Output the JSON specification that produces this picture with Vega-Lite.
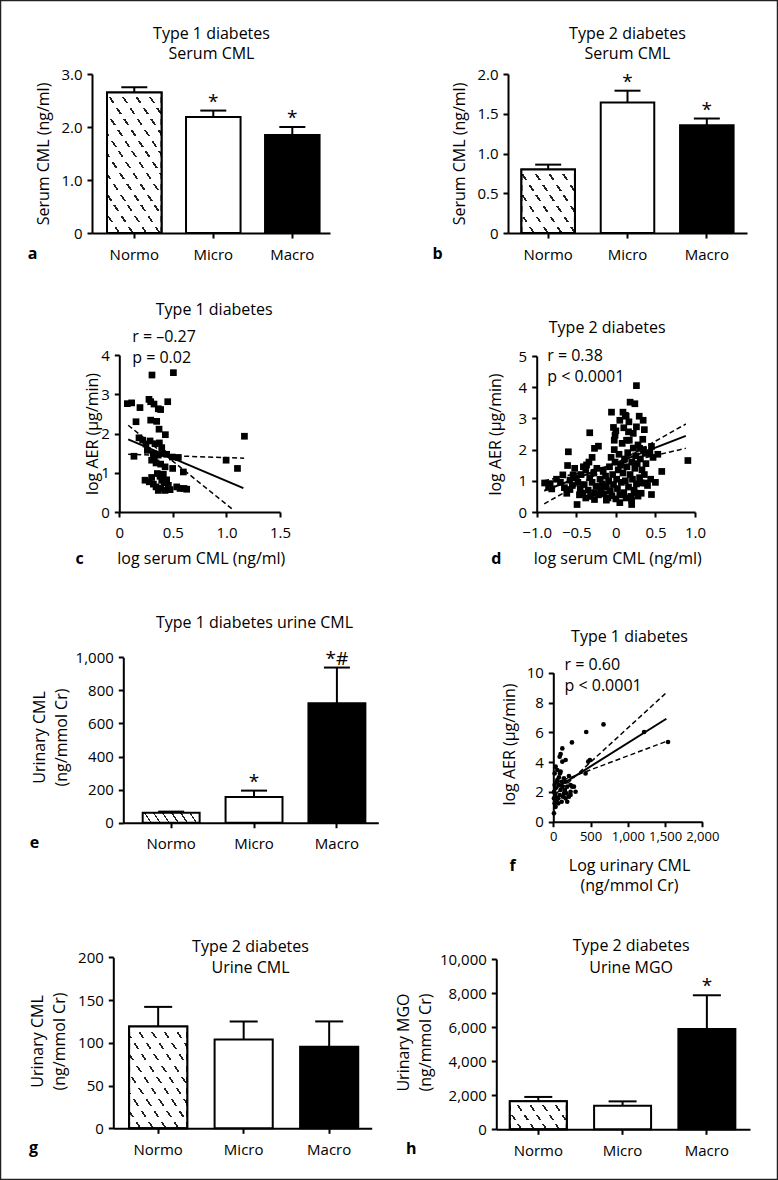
{
"$schema": "https://vega.github.io/schema/vega-lite/v6.json",
"width": 778, "height": 1180, "autosize": "none", "padding": 0, "background": "white",
"config": {
 "font": "Open Sans",
 "view": {"stroke": "#222", "strokeWidth": 2.5},
 "axis": {"grid": false, "domainColor": "black", "domainWidth": 2, "tickColor": "black", "tickWidth": 2, "tickSize": 5, "labelColor": "black", "labelFont": "Open Sans", "labelFontSize": 15, "labelPadding": 5, "labelFlush": false, "labelOverlap": false, "titleColor": "black", "titleFont": "Open Sans", "titleFontSize": 16, "titleFontWeight": "normal"},
 "text": {"font": "Open Sans", "color": "black"}
},
"datasets": {
 "a": [{"g": "Normo", "v": 2.65, "e": 2.75, "s": ""}, {"g": "Micro", "v": 2.19, "e": 2.31, "s": "*"}, {"g": "Macro", "v": 1.85, "e": 2.0, "s": "*"}],
 "b": [{"g": "Normo", "v": 0.80, "e": 0.86, "s": ""}, {"g": "Micro", "v": 1.64, "e": 1.79, "s": "*"}, {"g": "Macro", "v": 1.355, "e": 1.44, "s": "*"}],
 "e": [{"g": "Normo", "v": 60, "e": 67, "s": ""}, {"g": "Micro", "v": 155, "e": 194, "s": "*"}, {"g": "Macro", "v": 722, "e": 938, "s": "*#"}],
 "g": [{"g": "Normo", "v": 119, "e": 142, "s": ""}, {"g": "Micro", "v": 104, "e": 125, "s": ""}, {"g": "Macro", "v": 95.5, "e": 125, "s": ""}],
 "h": [{"g": "Normo", "v": 1650, "e": 1900, "s": ""}, {"g": "Micro", "v": 1390, "e": 1640, "s": ""}, {"g": "Macro", "v": 5890, "e": 7870, "s": "*"}],
 "c_pts": [{"x":0.075,"y":2.76},{"x":0.115,"y":2.78},{"x":0.193,"y":2.66},{"x":0.156,"y":2.3},{"x":0.137,"y":1.42},{"x":0.305,"y":3.49},{"x":0.505,"y":3.55},{"x":0.277,"y":2.87},{"x":0.293,"y":2.81},{"x":0.324,"y":2.75},{"x":0.364,"y":2.63},{"x":0.386,"y":2.61},{"x":0.452,"y":2.81},{"x":0.293,"y":2.34},{"x":0.349,"y":2.31},{"x":0.371,"y":2.11},{"x":0.43,"y":1.97},{"x":0.184,"y":1.89},{"x":0.218,"y":1.83},{"x":0.287,"y":1.81},{"x":0.249,"y":1.73},{"x":0.333,"y":1.74},{"x":0.374,"y":1.76},{"x":0.396,"y":1.64},{"x":0.262,"y":1.57},{"x":0.318,"y":1.49},{"x":0.364,"y":1.45},{"x":0.405,"y":1.49},{"x":0.442,"y":1.47},{"x":0.495,"y":1.4},{"x":0.551,"y":1.39},{"x":0.302,"y":1.32},{"x":0.343,"y":1.25},{"x":0.386,"y":1.22},{"x":0.427,"y":1.15},{"x":0.498,"y":1.11},{"x":0.598,"y":1.02},{"x":0.327,"y":1.36},{"x":0.997,"y":1.32},{"x":1.103,"y":1.11},{"x":1.168,"y":1.93},{"x":0.24,"y":0.81},{"x":0.28,"y":0.77},{"x":0.318,"y":0.71},{"x":0.355,"y":0.98},{"x":0.38,"y":0.91},{"x":0.396,"y":0.81},{"x":0.343,"y":0.64},{"x":0.386,"y":0.6},{"x":0.417,"y":0.74},{"x":0.442,"y":0.82},{"x":0.458,"y":0.68},{"x":0.474,"y":0.57},{"x":0.536,"y":0.64},{"x":0.567,"y":0.6},{"x":0.604,"y":0.6},{"x":0.629,"y":0.58},{"x":0.364,"y":0.55},{"x":0.427,"y":0.55},{"x":0.302,"y":0.88},{"x":0.411,"y":0.96}],
 "c_fit": [{"k":"fit","x":0.083,"y":1.85},{"k":"fit","x":1.158,"y":0.61},{"k":"b1","x":0.083,"y":2.21},{"k":"b1","x":1.07,"y":0.04},{"k":"b2","x":0.083,"y":1.47},{"k":"b2","x":1.165,"y":1.37}],
 "d_pts": [{"x":-0.9,"y":0.93},{"x":-0.83,"y":0.91},{"x":-0.81,"y":0.74},{"x":-0.85,"y":0.8},{"x":-0.75,"y":1.05},{"x":-0.7,"y":0.95},{"x":-0.67,"y":1.19},{"x":-0.65,"y":0.78},{"x":-0.62,"y":0.6},{"x":-0.6,"y":1.93},{"x":-0.61,"y":1.49},{"x":-0.58,"y":1.02},{"x":-0.58,"y":0.72},{"x":-0.55,"y":0.85},{"x":-0.54,"y":1.19},{"x":-0.52,"y":1.4},{"x":-0.5,"y":1.1},{"x":-0.49,"y":0.24},{"x":-0.48,"y":0.95},{"x":-0.46,"y":0.55},{"x":-0.45,"y":0.75},{"x":-0.44,"y":1.2},{"x":-0.42,"y":0.6},{"x":-0.41,"y":1.45},{"x":-0.4,"y":0.88},{"x":-0.38,"y":1.35},{"x":-0.38,"y":0.45},{"x":-0.37,"y":1.51},{"x":-0.35,"y":0.7},{"x":-0.34,"y":1.6},{"x":-0.33,"y":2.54},{"x":-0.33,"y":1.1},{"x":-0.32,"y":0.5},{"x":-0.3,"y":0.95},{"x":-0.3,"y":1.75},{"x":-0.28,"y":1.25},{"x":-0.27,"y":0.62},{"x":-0.27,"y":0.4},{"x":-0.27,"y":2.04},{"x":-0.25,"y":0.82},{"x":-0.24,"y":1.4},{"x":-0.22,"y":2.11},{"x":-0.22,"y":0.55},{"x":-0.2,"y":1.05},{"x":-0.19,"y":0.72},{"x":-0.17,"y":0.9},{"x":-0.16,"y":1.3},{"x":-0.15,"y":0.58},{"x":-0.13,"y":1.15},{"x":-0.12,"y":0.8},{"x":-0.12,"y":0.38},{"x":-0.1,"y":0.45},{"x":-0.09,"y":1.0},{"x":-0.08,"y":1.45},{"x":-0.07,"y":0.68},{"x":-0.06,"y":1.75},{"x":-0.055,"y":3.2},{"x":-0.05,"y":0.52},{"x":-0.04,"y":1.2},{"x":-0.03,"y":2.71},{"x":-0.03,"y":0.88},{"x":-0.02,"y":2.0},{"x":-0.02,"y":2.3},{"x":-0.01,"y":2.46},{"x":-0.01,"y":1.6},{"x":0.0,"y":0.42},{"x":0.0,"y":2.6},{"x":0.01,"y":1.05},{"x":0.02,"y":0.75},{"x":0.03,"y":1.35},{"x":0.04,"y":1.85},{"x":0.05,"y":0.55},{"x":0.05,"y":2.94},{"x":0.05,"y":0.3},{"x":0.06,"y":1.5},{"x":0.07,"y":0.95},{"x":0.08,"y":2.2},{"x":0.09,"y":1.25},{"x":0.09,"y":3.2},{"x":0.1,"y":0.62},{"x":0.1,"y":2.7},{"x":0.11,"y":1.7},{"x":0.12,"y":1.0},{"x":0.12,"y":3.1},{"x":0.13,"y":0.45},{"x":0.13,"y":3.07},{"x":0.135,"y":2.3},{"x":0.14,"y":1.45},{"x":0.15,"y":1.9},{"x":0.16,"y":2.57},{"x":0.16,"y":0.8},{"x":0.165,"y":2.89},{"x":0.17,"y":2.3},{"x":0.18,"y":1.2},{"x":0.18,"y":3.52},{"x":0.19,"y":0.5},{"x":0.2,"y":1.6},{"x":0.2,"y":0.24},{"x":0.2,"y":0.38},{"x":0.21,"y":1.05},{"x":0.22,"y":2.05},{"x":0.22,"y":2.52},{"x":0.23,"y":0.7},{"x":0.24,"y":1.4},{"x":0.24,"y":3.47},{"x":0.24,"y":0.61},{"x":0.25,"y":1.8},{"x":0.26,"y":0.9},{"x":0.26,"y":4.05},{"x":0.26,"y":2.73},{"x":0.27,"y":1.55},{"x":0.28,"y":2.15},{"x":0.28,"y":0.51},{"x":0.295,"y":3.07},{"x":0.3,"y":1.1},{"x":0.3,"y":2.04},{"x":0.31,"y":1.7},{"x":0.32,"y":0.6},{"x":0.32,"y":0.93},{"x":0.33,"y":1.35},{"x":0.34,"y":2.33},{"x":0.345,"y":2.94},{"x":0.35,"y":2.0},{"x":0.36,"y":1.2},{"x":0.36,"y":2.64},{"x":0.37,"y":0.93},{"x":0.37,"y":1.88},{"x":0.38,"y":1.55},{"x":0.4,"y":0.85},{"x":0.42,"y":1.9},{"x":0.43,"y":1.88},{"x":0.44,"y":1.05},{"x":0.45,"y":0.56},{"x":0.45,"y":2.1},{"x":0.47,"y":1.75},{"x":0.5,"y":0.95},{"x":0.53,"y":1.85},{"x":0.58,"y":1.3},{"x":0.91,"y":1.65}],
 "d_fit": [{"k":"fit","x":-0.905,"y":0.68},{"k":"fit","x":0.884,"y":2.44},{"k":"b1","x":-0.905,"y":1.0},{"k":"b1","x":0.884,"y":2.04},{"k":"b2","x":-0.905,"y":0.26},{"k":"b2","x":0.884,"y":2.82}],
 "f_pts": [{"x":1540,"y":5.35},{"x":1219,"y":6.02},{"x":674,"y":6.53},{"x":442,"y":6.02},{"x":250,"y":5.32},{"x":491,"y":4.14},{"x":469,"y":4.03},{"x":433,"y":3.24},{"x":121,"y":4.92},{"x":98,"y":4.54},{"x":85,"y":4.36},{"x":165,"y":4.14},{"x":121,"y":4.03},{"x":210,"y":3.06},{"x":254,"y":2.35},{"x":232,"y":1.79},{"x":31,"y":3.69},{"x":54,"y":3.47},{"x":18,"y":3.24},{"x":9,"y":0.56},{"x":22,"y":1.9},{"x":31,"y":1.68},{"x":45,"y":1.45},{"x":67,"y":1.57},{"x":85,"y":1.79},{"x":98,"y":2.13},{"x":121,"y":2.35},{"x":143,"y":1.9},{"x":165,"y":1.57},{"x":187,"y":1.34},{"x":210,"y":1.68},{"x":232,"y":2.01},{"x":76,"y":2.46},{"x":54,"y":2.8},{"x":31,"y":2.24},{"x":18,"y":2.46},{"x":9,"y":2.01},{"x":18,"y":1.23},{"x":31,"y":1.0},{"x":9,"y":1.57},{"x":112,"y":2.68},{"x":143,"y":2.91},{"x":89,"y":3.24},{"x":187,"y":2.35},{"x":156,"y":2.13},{"x":67,"y":1.23},{"x":112,"y":1.34},{"x":130,"y":1.68},{"x":178,"y":1.9},{"x":76,"y":2.98},{"x":45,"y":2.68},{"x":98,"y":3.36},{"x":165,"y":2.68},{"x":232,"y":2.46},{"x":277,"y":2.35},{"x":299,"y":2.01}],
 "f_fit": [{"k":"fit","x":31,"y":2.24},{"k":"fit","x":1518,"y":6.91},{"k":"b1","x":31,"y":1.85},{"k":"b1","x":1518,"y":8.66},{"k":"b2","x":31,"y":2.6},{"k":"b2","x":1518,"y":5.39}]
},
"layer": [
 {"data": {"name": "a"}, "resolve": {"axis": {"x": "independent", "y": "independent"}},
  "layer": [
   {"mark": {"type": "bar", "stroke": "black", "strokeWidth": 2},
    "encoding": {
     "x": {"field": "g", "type": "nominal", "sort": null, "scale": {"domain": ["Normo","Micro","Macro"], "range": [92,330], "paddingInner": 0.31, "paddingOuter": 0.161, "align": 0.59},
      "axis": {"orient": "bottom", "offset": -947, "labelAngle": 0, "labelPadding": 9, "title": "a", "titleX": 32, "titleY": 20, "titleFontSize": 16, "titleFontWeight": "bold", "titleAlign": "center", "titleBaseline": "middle"}},
     "y": {"field": "v", "type": "quantitative", "scale": {"domain": [0,3], "range": [233,74], "nice": false},
      "axis": {"orient": "left", "offset": -92, "values": [0,1,2,3], "labelExpr": "datum.value === 0 ? '0' : format(datum.value, '.1f')", "title": "Serum CML (ng/ml)", "titleX": -49, "titleY": 153.5, "titleAlign": "center", "titleBaseline": "middle"}},
     "fill": {"condition": [{"test": "datum.g === 'Normo'", "value": {"gradient":"linear","x1":0,"y1":1,"x2":0.689,"y2":-0.181,"stops":[{"offset":0,"color":"white"},{"offset":0.0764,"color":"white"},{"offset":0.0764,"color":"#222"},{"offset":0.0909,"color":"#222"},{"offset":0.0909,"color":"white"},{"offset":0.1673,"color":"white"},{"offset":0.1673,"color":"#222"},{"offset":0.1818,"color":"#222"},{"offset":0.1818,"color":"white"},{"offset":0.2582,"color":"white"},{"offset":0.2582,"color":"#222"},{"offset":0.2727,"color":"#222"},{"offset":0.2727,"color":"white"},{"offset":0.3491,"color":"white"},{"offset":0.3491,"color":"#222"},{"offset":0.3636,"color":"#222"},{"offset":0.3636,"color":"white"},{"offset":0.44,"color":"white"},{"offset":0.44,"color":"#222"},{"offset":0.4545,"color":"#222"},{"offset":0.4545,"color":"white"},{"offset":0.5309,"color":"white"},{"offset":0.5309,"color":"#222"},{"offset":0.5455,"color":"#222"},{"offset":0.5455,"color":"white"},{"offset":0.6218,"color":"white"},{"offset":0.6218,"color":"#222"},{"offset":0.6364,"color":"#222"},{"offset":0.6364,"color":"white"},{"offset":0.7127,"color":"white"},{"offset":0.7127,"color":"#222"},{"offset":0.7273,"color":"#222"},{"offset":0.7273,"color":"white"},{"offset":0.8036,"color":"white"},{"offset":0.8036,"color":"#222"},{"offset":0.8182,"color":"#222"},{"offset":0.8182,"color":"white"},{"offset":0.8945,"color":"white"},{"offset":0.8945,"color":"#222"},{"offset":0.9091,"color":"#222"},{"offset":0.9091,"color":"white"},{"offset":0.9855,"color":"white"},{"offset":0.9855,"color":"#222"},{"offset":1,"color":"#222"}]}}, {"test": "datum.g === 'Macro'", "value": "black"}], "value": "white"}
    }},
   {"transform": [{"filter": "datum.g === 'Normo'"}], "mark": {"type": "bar", "strokeWidth": 0, "fill": {"gradient":"linear","x1":0,"y1":0,"x2":0,"y2":1,"stops":[{"offset":0,"color":"white"},{"offset":0.0346,"color":"white"},{"offset":0.0346,"color":"rgba(255,255,255,0)"},{"offset":0.0769,"color":"rgba(255,255,255,0)"},{"offset":0.0769,"color":"white"},{"offset":0.1115,"color":"white"},{"offset":0.1115,"color":"rgba(255,255,255,0)"},{"offset":0.1538,"color":"rgba(255,255,255,0)"},{"offset":0.1538,"color":"white"},{"offset":0.1885,"color":"white"},{"offset":0.1885,"color":"rgba(255,255,255,0)"},{"offset":0.2308,"color":"rgba(255,255,255,0)"},{"offset":0.2308,"color":"white"},{"offset":0.2654,"color":"white"},{"offset":0.2654,"color":"rgba(255,255,255,0)"},{"offset":0.3077,"color":"rgba(255,255,255,0)"},{"offset":0.3077,"color":"white"},{"offset":0.3423,"color":"white"},{"offset":0.3423,"color":"rgba(255,255,255,0)"},{"offset":0.3846,"color":"rgba(255,255,255,0)"},{"offset":0.3846,"color":"white"},{"offset":0.4192,"color":"white"},{"offset":0.4192,"color":"rgba(255,255,255,0)"},{"offset":0.4615,"color":"rgba(255,255,255,0)"},{"offset":0.4615,"color":"white"},{"offset":0.4962,"color":"white"},{"offset":0.4962,"color":"rgba(255,255,255,0)"},{"offset":0.5385,"color":"rgba(255,255,255,0)"},{"offset":0.5385,"color":"white"},{"offset":0.5731,"color":"white"},{"offset":0.5731,"color":"rgba(255,255,255,0)"},{"offset":0.6154,"color":"rgba(255,255,255,0)"},{"offset":0.6154,"color":"white"},{"offset":0.65,"color":"white"},{"offset":0.65,"color":"rgba(255,255,255,0)"},{"offset":0.6923,"color":"rgba(255,255,255,0)"},{"offset":0.6923,"color":"white"},{"offset":0.7269,"color":"white"},{"offset":0.7269,"color":"rgba(255,255,255,0)"},{"offset":0.7692,"color":"rgba(255,255,255,0)"},{"offset":0.7692,"color":"white"},{"offset":0.8038,"color":"white"},{"offset":0.8038,"color":"rgba(255,255,255,0)"},{"offset":0.8462,"color":"rgba(255,255,255,0)"},{"offset":0.8462,"color":"white"},{"offset":0.8808,"color":"white"},{"offset":0.8808,"color":"rgba(255,255,255,0)"},{"offset":0.9231,"color":"rgba(255,255,255,0)"},{"offset":0.9231,"color":"white"},{"offset":0.9577,"color":"white"},{"offset":0.9577,"color":"rgba(255,255,255,0)"},{"offset":1,"color":"rgba(255,255,255,0)"}]}},
    "encoding": {"x": {"field": "g", "type": "nominal", "sort": null, "axis": null}, "y": {"field": "v", "type": "quantitative", "axis": null}}},
   {"transform": [{"filter": "datum.g === 'Normo'"}], "mark": {"type": "bar", "fill": "white", "fillOpacity": 0, "stroke": "black", "strokeWidth": 2},
    "encoding": {"x": {"field": "g", "type": "nominal", "sort": null, "axis": null}, "y": {"field": "v", "type": "quantitative", "axis": null}}},
   {"mark": {"type": "rule", "strokeWidth": 2, "color": "black"},
    "encoding": {
     "x": {"field": "g", "type": "nominal", "sort": null, "axis": {"orient": "top", "offset": 0, "domain": false, "ticks": false, "labels": false, "title": ["Type 1 diabetes","Serum CML"], "titleX": 211, "titleY": 25, "titleAlign": "center", "titleBaseline": "top", "titleLineHeight": 20}},
     "y": {"field": "v", "type": "quantitative", "axis": null}, "y2": {"field": "e"}}},
   {"mark": {"type": "tick", "thickness": 2, "size": 26, "color": "black", "opacity": 1},
    "encoding": {"x": {"field": "g", "type": "nominal", "sort": null, "axis": null}, "y": {"field": "e", "type": "quantitative", "axis": null}}},
   {"mark": {"type": "text", "fontSize": 19, "baseline": "alphabetic", "dy": -3, "color": "black"},
    "encoding": {"x": {"field": "g", "type": "nominal", "sort": null, "axis": null}, "y": {"field": "e", "type": "quantitative", "axis": null}, "text": {"field": "s"}}}
  ]},
 {"data": {"name": "b"}, "resolve": {"axis": {"x": "independent", "y": "independent"}},
  "layer": [
   {"mark": {"type": "bar", "stroke": "black", "strokeWidth": 2},
    "encoding": {
     "x": {"field": "g", "type": "nominal", "sort": null, "scale": {"domain": ["Normo","Micro","Macro"], "range": [508,747], "paddingInner": 0.325, "paddingOuter": 0.169, "align": 0.5},
      "axis": {"orient": "bottom", "offset": -947, "labelAngle": 0, "labelPadding": 9, "title": "b", "titleX": 437, "titleY": 20, "titleFontSize": 16, "titleFontWeight": "bold", "titleAlign": "center", "titleBaseline": "middle"}},
     "y": {"field": "v", "type": "quantitative", "scale": {"domain": [0,2], "range": [233,74], "nice": false},
      "axis": {"orient": "left", "offset": -508, "values": [0,0.5,1,1.5,2], "labelExpr": "datum.value === 0 ? '0' : format(datum.value, '.1f')", "title": "Serum CML (ng/ml)", "titleX": -49, "titleY": 153.5, "titleAlign": "center", "titleBaseline": "middle"}},
     "fill": {"condition": [{"test": "datum.g === 'Normo'", "value": {"gradient":"linear","x1":0,"y1":1,"x2":1.101,"y2":0.127,"stops":[{"offset":0,"color":"white"},{"offset":0.12,"color":"white"},{"offset":0.12,"color":"#222"},{"offset":0.1429,"color":"#222"},{"offset":0.1429,"color":"white"},{"offset":0.2629,"color":"white"},{"offset":0.2629,"color":"#222"},{"offset":0.2857,"color":"#222"},{"offset":0.2857,"color":"white"},{"offset":0.4057,"color":"white"},{"offset":0.4057,"color":"#222"},{"offset":0.4286,"color":"#222"},{"offset":0.4286,"color":"white"},{"offset":0.5486,"color":"white"},{"offset":0.5486,"color":"#222"},{"offset":0.5714,"color":"#222"},{"offset":0.5714,"color":"white"},{"offset":0.6914,"color":"white"},{"offset":0.6914,"color":"#222"},{"offset":0.7143,"color":"#222"},{"offset":0.7143,"color":"white"},{"offset":0.8343,"color":"white"},{"offset":0.8343,"color":"#222"},{"offset":0.8571,"color":"#222"},{"offset":0.8571,"color":"white"},{"offset":0.9771,"color":"white"},{"offset":0.9771,"color":"#222"},{"offset":1,"color":"#222"}]}}, {"test": "datum.g === 'Macro'", "value": "black"}], "value": "white"}
    }},
   {"transform": [{"filter": "datum.g === 'Normo'"}], "mark": {"type": "bar", "strokeWidth": 0, "fill": {"gradient":"linear","x1":0,"y1":0,"x2":0,"y2":1,"stops":[{"offset":0,"color":"white"},{"offset":0.075,"color":"white"},{"offset":0.075,"color":"rgba(255,255,255,0)"},{"offset":0.1667,"color":"rgba(255,255,255,0)"},{"offset":0.1667,"color":"white"},{"offset":0.2417,"color":"white"},{"offset":0.2417,"color":"rgba(255,255,255,0)"},{"offset":0.3333,"color":"rgba(255,255,255,0)"},{"offset":0.3333,"color":"white"},{"offset":0.4083,"color":"white"},{"offset":0.4083,"color":"rgba(255,255,255,0)"},{"offset":0.5,"color":"rgba(255,255,255,0)"},{"offset":0.5,"color":"white"},{"offset":0.575,"color":"white"},{"offset":0.575,"color":"rgba(255,255,255,0)"},{"offset":0.6667,"color":"rgba(255,255,255,0)"},{"offset":0.6667,"color":"white"},{"offset":0.7417,"color":"white"},{"offset":0.7417,"color":"rgba(255,255,255,0)"},{"offset":0.8333,"color":"rgba(255,255,255,0)"},{"offset":0.8333,"color":"white"},{"offset":0.9083,"color":"white"},{"offset":0.9083,"color":"rgba(255,255,255,0)"},{"offset":1,"color":"rgba(255,255,255,0)"}]}},
    "encoding": {"x": {"field": "g", "type": "nominal", "sort": null, "axis": null}, "y": {"field": "v", "type": "quantitative", "axis": null}}},
   {"transform": [{"filter": "datum.g === 'Normo'"}], "mark": {"type": "bar", "fill": "white", "fillOpacity": 0, "stroke": "black", "strokeWidth": 2},
    "encoding": {"x": {"field": "g", "type": "nominal", "sort": null, "axis": null}, "y": {"field": "v", "type": "quantitative", "axis": null}}},
   {"mark": {"type": "rule", "strokeWidth": 2, "color": "black"},
    "encoding": {
     "x": {"field": "g", "type": "nominal", "sort": null, "axis": {"orient": "top", "offset": 0, "domain": false, "ticks": false, "labels": false, "title": ["Type 2 diabetes","Serum CML"], "titleX": 627, "titleY": 25, "titleAlign": "center", "titleBaseline": "top", "titleLineHeight": 20}},
     "y": {"field": "v", "type": "quantitative", "axis": null}, "y2": {"field": "e"}}},
   {"mark": {"type": "tick", "thickness": 2, "size": 26, "color": "black", "opacity": 1},
    "encoding": {"x": {"field": "g", "type": "nominal", "sort": null, "axis": null}, "y": {"field": "e", "type": "quantitative", "axis": null}}},
   {"mark": {"type": "text", "fontSize": 19, "baseline": "alphabetic", "dy": -3, "color": "black"},
    "encoding": {"x": {"field": "g", "type": "nominal", "sort": null, "axis": null}, "y": {"field": "e", "type": "quantitative", "axis": null}, "text": {"field": "s"}}}
  ]},
 {"resolve": {"axis": {"x": "independent", "y": "independent"}},
  "layer": [
   {"data": {"name": "c_pts"}, "mark": {"type": "square", "size": 45, "color": "black", "opacity": 1},
    "encoding": {
     "x": {"field": "x", "type": "quantitative", "scale": {"domain": [0,1.5], "range": [119.3,280], "nice": false, "zero": false},
      "axis": {"orient": "bottom", "offset": -668, "values": [0,0.5,1,1.5], "labelExpr": "datum.value === 0 ? '0' : format(datum.value, '.1f')", "labelPadding": 8, "title": "log serum CML (ng/ml)", "titleX": 200.8, "titleY": 46, "titleAlign": "center", "titleBaseline": "middle"}},
     "y": {"field": "y", "type": "quantitative", "scale": {"domain": [0,4], "range": [512,355], "nice": false},
      "axis": {"orient": "left", "offset": -119.3, "values": [0,1,2,3,4], "format": "d", "title": "log AER (µg/min)", "titleX": -27, "titleY": 433.5, "titleAlign": "center", "titleBaseline": "middle"}}}},
   {"data": {"name": "c_fit"}, "transform": [{"filter": "datum.k === 'fit'"}], "mark": {"type": "line", "color": "black", "strokeWidth": 2},
    "encoding": {
     "x": {"field": "x", "type": "quantitative", "axis": {"orient": "top", "offset": 0, "domain": false, "ticks": false, "labels": false, "title": "Type 1 diabetes", "titleX": 213.7, "titleY": 309, "titleAlign": "center", "titleBaseline": "middle"}},
     "y": {"field": "y", "type": "quantitative", "axis": {"orient": "left", "offset": 0, "domain": false, "ticks": false, "labels": false, "title": ["r = –0.27","p = 0.02"], "titleAngle": 0, "titleX": 131.7, "titleY": 328, "titleAlign": "left", "titleBaseline": "top", "titleLineHeight": 21}}}},
   {"data": {"name": "c_fit"}, "transform": [{"filter": "datum.k !== 'fit'"}], "mark": {"type": "line", "color": "black", "strokeWidth": 1.5, "strokeDash": [5,3]},
    "encoding": {
     "x": {"field": "x", "type": "quantitative", "axis": {"orient": "bottom", "offset": -1180, "domain": false, "ticks": false, "labels": false, "title": "c", "titleX": 79, "titleY": 558, "titleFontSize": 16, "titleFontWeight": "bold", "titleAlign": "center", "titleBaseline": "middle"}},
     "y": {"field": "y", "type": "quantitative", "axis": null},
     "detail": {"field": "k"}}}
  ]},
 {"resolve": {"axis": {"x": "independent", "y": "independent"}},
  "layer": [
   {"data": {"name": "d_pts"}, "mark": {"type": "square", "size": 45, "color": "black", "opacity": 1},
    "encoding": {
     "x": {"field": "x", "type": "quantitative", "scale": {"domain": [-1,1], "range": [536.7,695], "nice": false, "zero": false},
      "axis": {"orient": "bottom", "offset": -668, "values": [-1,-0.5,0,0.5,1], "labelExpr": "datum.value === 0 ? '0' : format(datum.value, '.1f')", "labelPadding": 8, "title": "log serum CML (ng/ml)", "titleX": 617.3, "titleY": 46, "titleAlign": "center", "titleBaseline": "middle"}},
     "y": {"field": "y", "type": "quantitative", "scale": {"domain": [0,5], "range": [512,356], "nice": false},
      "axis": {"orient": "left", "offset": -536.7, "values": [0,1,2,3,4,5], "format": "d", "title": "log AER (µg/min)", "titleX": -41.7, "titleY": 434, "titleAlign": "center", "titleBaseline": "middle"}}}},
   {"data": {"name": "d_fit"}, "transform": [{"filter": "datum.k === 'fit'"}], "mark": {"type": "line", "color": "black", "strokeWidth": 2},
    "encoding": {
     "x": {"field": "x", "type": "quantitative", "axis": {"orient": "top", "offset": 0, "domain": false, "ticks": false, "labels": false, "title": "Type 2 diabetes", "titleX": 606.7, "titleY": 327, "titleAlign": "center", "titleBaseline": "middle"}},
     "y": {"field": "y", "type": "quantitative", "axis": {"orient": "left", "offset": 0, "domain": false, "ticks": false, "labels": false, "title": ["r = 0.38","p < 0.0001"], "titleAngle": 0, "titleX": 546.7, "titleY": 347, "titleAlign": "left", "titleBaseline": "top", "titleLineHeight": 21}}}},
   {"data": {"name": "d_fit"}, "transform": [{"filter": "datum.k !== 'fit'"}], "mark": {"type": "line", "color": "black", "strokeWidth": 1.5, "strokeDash": [5,3]},
    "encoding": {
     "x": {"field": "x", "type": "quantitative", "axis": {"orient": "bottom", "offset": -1180, "domain": false, "ticks": false, "labels": false, "title": "d", "titleX": 495.7, "titleY": 558, "titleFontSize": 16, "titleFontWeight": "bold", "titleAlign": "center", "titleBaseline": "middle"}},
     "y": {"field": "y", "type": "quantitative", "axis": null},
     "detail": {"field": "k"}}}
  ]},
 {"data": {"name": "e"}, "resolve": {"axis": {"x": "independent", "y": "independent"}},
  "layer": [
   {"mark": {"type": "bar", "stroke": "black", "strokeWidth": 2},
    "encoding": {
     "x": {"field": "g", "type": "nominal", "sort": null, "scale": {"domain": ["Normo","Micro","Macro"], "range": [123.3,378.3], "paddingInner": 0.313, "paddingOuter": 0.195, "align": 0.6},
      "axis": {"orient": "bottom", "offset": -357.3, "labelAngle": 0, "labelPadding": 9, "title": "e", "titleX": 34, "titleY": 20, "titleFontSize": 16, "titleFontWeight": "bold", "titleAlign": "center", "titleBaseline": "middle"}},
     "y": {"field": "v", "type": "quantitative", "scale": {"domain": [0,1000], "range": [822.7,657.3], "nice": false},
      "axis": {"orient": "left", "offset": -123.3, "values": [0,200,400,600,800,1000], "format": ",.0f", "title": ["Urinary CML","(ng/mmol Cr)"], "titleX": -92, "titleY": 737, "titleAlign": "center", "titleBaseline": "top", "titleLineHeight": 22}},
     "fill": {"condition": [{"test": "datum.g === 'Normo'", "value": {"gradient":"linear","x1":0,"y1":1,"x2":1.101,"y2":0.872,"stops":[{"offset":0,"color":"white"},{"offset":0.12,"color":"white"},{"offset":0.12,"color":"#222"},{"offset":0.1429,"color":"#222"},{"offset":0.1429,"color":"white"},{"offset":0.2629,"color":"white"},{"offset":0.2629,"color":"#222"},{"offset":0.2857,"color":"#222"},{"offset":0.2857,"color":"white"},{"offset":0.4057,"color":"white"},{"offset":0.4057,"color":"#222"},{"offset":0.4286,"color":"#222"},{"offset":0.4286,"color":"white"},{"offset":0.5486,"color":"white"},{"offset":0.5486,"color":"#222"},{"offset":0.5714,"color":"#222"},{"offset":0.5714,"color":"white"},{"offset":0.6914,"color":"white"},{"offset":0.6914,"color":"#222"},{"offset":0.7143,"color":"#222"},{"offset":0.7143,"color":"white"},{"offset":0.8343,"color":"white"},{"offset":0.8343,"color":"#222"},{"offset":0.8571,"color":"#222"},{"offset":0.8571,"color":"white"},{"offset":0.9771,"color":"white"},{"offset":0.9771,"color":"#222"},{"offset":1,"color":"#222"}]}}, {"test": "datum.g === 'Macro'", "value": "black"}], "value": "white"}
    }},
   {"mark": {"type": "rule", "strokeWidth": 2, "color": "black"},
    "encoding": {
     "x": {"field": "g", "type": "nominal", "sort": null, "axis": {"orient": "top", "offset": 0, "domain": false, "ticks": false, "labels": false, "title": "Type 1 diabetes urine CML", "titleX": 254, "titleY": 622.5, "titleAlign": "center", "titleBaseline": "middle"}},
     "y": {"field": "v", "type": "quantitative", "axis": null}, "y2": {"field": "e"}}},
   {"mark": {"type": "tick", "thickness": 2, "size": 26, "color": "black", "opacity": 1},
    "encoding": {"x": {"field": "g", "type": "nominal", "sort": null, "axis": null}, "y": {"field": "e", "type": "quantitative", "axis": null}}},
   {"mark": {"type": "text", "fontSize": 19, "baseline": "alphabetic", "dy": -3, "color": "black"},
    "encoding": {"x": {"field": "g", "type": "nominal", "sort": null, "axis": null}, "y": {"field": "e", "type": "quantitative", "axis": null}, "text": {"field": "s"}}}
  ]},
 {"resolve": {"axis": {"x": "independent", "y": "independent"}},
  "layer": [
   {"data": {"name": "f_pts"}, "mark": {"type": "circle", "size": 22, "color": "black", "opacity": 1},
    "encoding": {
     "x": {"field": "x", "type": "quantitative", "scale": {"domain": [0,2000], "range": [553.3,702.3], "nice": false, "zero": false},
      "axis": {"orient": "bottom", "offset": -358.3, "values": [0,500,1000,1500,2000], "format": ",.0f", "labelFontSize": 13, "labelPadding": 4, "title": ["Log urinary CML","(ng/mmol Cr)"], "titleX": 629, "titleY": 36, "titleAlign": "center", "titleBaseline": "top", "titleLineHeight": 20}},
     "y": {"field": "y", "type": "quantitative", "scale": {"domain": [0,10], "range": [821.7,672.7], "nice": false},
      "axis": {"orient": "left", "offset": -553.3, "values": [0,2,4,6,8,10], "format": "d", "title": "log AER (µg/min)", "titleX": -44.3, "titleY": 744, "titleAlign": "center", "titleBaseline": "middle"}}}},
   {"data": {"name": "f_fit"}, "transform": [{"filter": "datum.k === 'fit'"}], "mark": {"type": "line", "color": "black", "strokeWidth": 2},
    "encoding": {
     "x": {"field": "x", "type": "quantitative", "axis": {"orient": "top", "offset": 0, "domain": false, "ticks": false, "labels": false, "title": "Type 1 diabetes", "titleX": 629, "titleY": 636, "titleAlign": "center", "titleBaseline": "middle"}},
     "y": {"field": "y", "type": "quantitative", "axis": {"orient": "left", "offset": 0, "domain": false, "ticks": false, "labels": false, "title": ["r = 0.60","p < 0.0001"], "titleAngle": 0, "titleX": 564, "titleY": 656, "titleAlign": "left", "titleBaseline": "top", "titleLineHeight": 21}}}},
   {"data": {"name": "f_fit"}, "transform": [{"filter": "datum.k !== 'fit'"}], "mark": {"type": "line", "color": "black", "strokeWidth": 1.5, "strokeDash": [5,3]},
    "encoding": {
     "x": {"field": "x", "type": "quantitative", "axis": {"orient": "bottom", "offset": -1180, "domain": false, "ticks": false, "labels": false, "title": "f", "titleX": 512, "titleY": 865, "titleFontSize": 16, "titleFontWeight": "bold", "titleAlign": "center", "titleBaseline": "middle"}},
     "y": {"field": "y", "type": "quantitative", "axis": null},
     "detail": {"field": "k"}}}
  ]},
 {"data": {"name": "g"}, "resolve": {"axis": {"x": "independent", "y": "independent"}},
  "layer": [
   {"mark": {"type": "bar", "stroke": "black", "strokeWidth": 2},
    "encoding": {
     "x": {"field": "g", "type": "nominal", "sort": null, "scale": {"domain": ["Normo","Micro","Macro"], "range": [113.3,371.7], "paddingInner": 0.32, "paddingOuter": 0.171, "align": 0.54},
      "axis": {"orient": "bottom", "offset": -51.7, "labelAngle": 0, "labelPadding": 9, "title": "g", "titleX": 33, "titleY": 19, "titleFontSize": 16, "titleFontWeight": "bold", "titleAlign": "center", "titleBaseline": "middle"}},
     "y": {"field": "v", "type": "quantitative", "scale": {"domain": [0,200], "range": [1128.3,957.3], "nice": false},
      "axis": {"orient": "left", "offset": -113.3, "values": [0,50,100,150,200], "format": "d", "title": ["Urinary CML","(ng/mmol Cr)"], "titleX": -83.6, "titleY": 1041, "titleAlign": "center", "titleBaseline": "top", "titleLineHeight": 22}},
     "fill": {"condition": [{"test": "datum.g === 'Normo'", "value": {"gradient":"linear","x1":0,"y1":1,"x2":0.918,"y2":-0.07,"stops":[{"offset":0,"color":"white"},{"offset":0.084,"color":"white"},{"offset":0.084,"color":"#222"},{"offset":0.1,"color":"#222"},{"offset":0.1,"color":"white"},{"offset":0.184,"color":"white"},{"offset":0.184,"color":"#222"},{"offset":0.2,"color":"#222"},{"offset":0.2,"color":"white"},{"offset":0.284,"color":"white"},{"offset":0.284,"color":"#222"},{"offset":0.3,"color":"#222"},{"offset":0.3,"color":"white"},{"offset":0.384,"color":"white"},{"offset":0.384,"color":"#222"},{"offset":0.4,"color":"#222"},{"offset":0.4,"color":"white"},{"offset":0.484,"color":"white"},{"offset":0.484,"color":"#222"},{"offset":0.5,"color":"#222"},{"offset":0.5,"color":"white"},{"offset":0.584,"color":"white"},{"offset":0.584,"color":"#222"},{"offset":0.6,"color":"#222"},{"offset":0.6,"color":"white"},{"offset":0.684,"color":"white"},{"offset":0.684,"color":"#222"},{"offset":0.7,"color":"#222"},{"offset":0.7,"color":"white"},{"offset":0.784,"color":"white"},{"offset":0.784,"color":"#222"},{"offset":0.8,"color":"#222"},{"offset":0.8,"color":"white"},{"offset":0.884,"color":"white"},{"offset":0.884,"color":"#222"},{"offset":0.9,"color":"#222"},{"offset":0.9,"color":"white"},{"offset":0.984,"color":"white"},{"offset":0.984,"color":"#222"},{"offset":1,"color":"#222"}]}}, {"test": "datum.g === 'Macro'", "value": "black"}], "value": "white"}
    }},
   {"transform": [{"filter": "datum.g === 'Normo'"}], "mark": {"type": "bar", "strokeWidth": 0, "fill": {"gradient":"linear","x1":0,"y1":0,"x2":0,"y2":1,"stops":[{"offset":0,"color":"white"},{"offset":0.05,"color":"white"},{"offset":0.05,"color":"rgba(255,255,255,0)"},{"offset":0.1111,"color":"rgba(255,255,255,0)"},{"offset":0.1111,"color":"white"},{"offset":0.1611,"color":"white"},{"offset":0.1611,"color":"rgba(255,255,255,0)"},{"offset":0.2222,"color":"rgba(255,255,255,0)"},{"offset":0.2222,"color":"white"},{"offset":0.2722,"color":"white"},{"offset":0.2722,"color":"rgba(255,255,255,0)"},{"offset":0.3333,"color":"rgba(255,255,255,0)"},{"offset":0.3333,"color":"white"},{"offset":0.3833,"color":"white"},{"offset":0.3833,"color":"rgba(255,255,255,0)"},{"offset":0.4444,"color":"rgba(255,255,255,0)"},{"offset":0.4444,"color":"white"},{"offset":0.4944,"color":"white"},{"offset":0.4944,"color":"rgba(255,255,255,0)"},{"offset":0.5556,"color":"rgba(255,255,255,0)"},{"offset":0.5556,"color":"white"},{"offset":0.6056,"color":"white"},{"offset":0.6056,"color":"rgba(255,255,255,0)"},{"offset":0.6667,"color":"rgba(255,255,255,0)"},{"offset":0.6667,"color":"white"},{"offset":0.7167,"color":"white"},{"offset":0.7167,"color":"rgba(255,255,255,0)"},{"offset":0.7778,"color":"rgba(255,255,255,0)"},{"offset":0.7778,"color":"white"},{"offset":0.8278,"color":"white"},{"offset":0.8278,"color":"rgba(255,255,255,0)"},{"offset":0.8889,"color":"rgba(255,255,255,0)"},{"offset":0.8889,"color":"white"},{"offset":0.9389,"color":"white"},{"offset":0.9389,"color":"rgba(255,255,255,0)"},{"offset":1,"color":"rgba(255,255,255,0)"}]}},
    "encoding": {"x": {"field": "g", "type": "nominal", "sort": null, "axis": null}, "y": {"field": "v", "type": "quantitative", "axis": null}}},
   {"transform": [{"filter": "datum.g === 'Normo'"}], "mark": {"type": "bar", "fill": "white", "fillOpacity": 0, "stroke": "black", "strokeWidth": 2},
    "encoding": {"x": {"field": "g", "type": "nominal", "sort": null, "axis": null}, "y": {"field": "v", "type": "quantitative", "axis": null}}},
   {"mark": {"type": "rule", "strokeWidth": 2, "color": "black"},
    "encoding": {
     "x": {"field": "g", "type": "nominal", "sort": null, "axis": {"orient": "top", "offset": 0, "domain": false, "ticks": false, "labels": false, "title": ["Type 2 diabetes","Urine CML"], "titleX": 250, "titleY": 938, "titleAlign": "center", "titleBaseline": "top", "titleLineHeight": 21}},
     "y": {"field": "v", "type": "quantitative", "axis": null}, "y2": {"field": "e"}}},
   {"mark": {"type": "tick", "thickness": 2, "size": 28, "color": "black", "opacity": 1},
    "encoding": {"x": {"field": "g", "type": "nominal", "sort": null, "axis": null}, "y": {"field": "e", "type": "quantitative", "axis": null}}}
  ]},
 {"data": {"name": "h"}, "resolve": {"axis": {"x": "independent", "y": "independent"}},
  "layer": [
   {"mark": {"type": "bar", "stroke": "black", "strokeWidth": 2},
    "encoding": {
     "x": {"field": "g", "type": "nominal", "sort": null, "scale": {"domain": ["Normo","Micro","Macro"], "range": [496.3,750], "paddingInner": 0.324, "paddingOuter": 0.167, "align": 0.48},
      "axis": {"orient": "bottom", "offset": -50.7, "labelAngle": 0, "labelPadding": 9, "title": "h", "titleX": 410.7, "titleY": 19, "titleFontSize": 16, "titleFontWeight": "bold", "titleAlign": "center", "titleBaseline": "middle"}},
     "y": {"field": "v", "type": "quantitative", "scale": {"domain": [0,10000], "range": [1129.3,959], "nice": false},
      "axis": {"orient": "left", "offset": -496.3, "values": [0,2000,4000,6000,8000,10000], "format": ",.0f", "title": ["Urinary MGO","(ng/mmol Cr)"], "titleX": -101, "titleY": 1042, "titleAlign": "center", "titleBaseline": "top", "titleLineHeight": 22}},
     "fill": {"condition": [{"test": "datum.g === 'Normo'", "value": {"gradient":"linear","x1":0,"y1":1,"x2":1.199,"y2":0.605,"stops":[{"offset":0,"color":"white"},{"offset":0.14,"color":"white"},{"offset":0.14,"color":"#222"},{"offset":0.1667,"color":"#222"},{"offset":0.1667,"color":"white"},{"offset":0.3067,"color":"white"},{"offset":0.3067,"color":"#222"},{"offset":0.3333,"color":"#222"},{"offset":0.3333,"color":"white"},{"offset":0.4733,"color":"white"},{"offset":0.4733,"color":"#222"},{"offset":0.5,"color":"#222"},{"offset":0.5,"color":"white"},{"offset":0.64,"color":"white"},{"offset":0.64,"color":"#222"},{"offset":0.6667,"color":"#222"},{"offset":0.6667,"color":"white"},{"offset":0.8067,"color":"white"},{"offset":0.8067,"color":"#222"},{"offset":0.8333,"color":"#222"},{"offset":0.8333,"color":"white"},{"offset":0.9733,"color":"white"},{"offset":0.9733,"color":"#222"},{"offset":1,"color":"#222"}]}}, {"test": "datum.g === 'Macro'", "value": "black"}], "value": "white"}
    }},
   {"transform": [{"filter": "datum.g === 'Normo'"}], "mark": {"type": "bar", "strokeWidth": 0, "fill": {"gradient":"linear","x1":0,"y1":0,"x2":0,"y2":1,"stops":[{"offset":0,"color":"white"},{"offset":0.15,"color":"white"},{"offset":0.15,"color":"rgba(255,255,255,0)"},{"offset":0.3333,"color":"rgba(255,255,255,0)"},{"offset":0.3333,"color":"white"},{"offset":0.4833,"color":"white"},{"offset":0.4833,"color":"rgba(255,255,255,0)"},{"offset":0.6667,"color":"rgba(255,255,255,0)"},{"offset":0.6667,"color":"white"},{"offset":0.8167,"color":"white"},{"offset":0.8167,"color":"rgba(255,255,255,0)"},{"offset":1,"color":"rgba(255,255,255,0)"}]}},
    "encoding": {"x": {"field": "g", "type": "nominal", "sort": null, "axis": null}, "y": {"field": "v", "type": "quantitative", "axis": null}}},
   {"transform": [{"filter": "datum.g === 'Normo'"}], "mark": {"type": "bar", "fill": "white", "fillOpacity": 0, "stroke": "black", "strokeWidth": 2},
    "encoding": {"x": {"field": "g", "type": "nominal", "sort": null, "axis": null}, "y": {"field": "v", "type": "quantitative", "axis": null}}},
   {"mark": {"type": "rule", "strokeWidth": 2, "color": "black"},
    "encoding": {
     "x": {"field": "g", "type": "nominal", "sort": null, "axis": {"orient": "top", "offset": 0, "domain": false, "ticks": false, "labels": false, "title": ["Type 2 diabetes","Urine MGO"], "titleX": 630.7, "titleY": 937, "titleAlign": "center", "titleBaseline": "top", "titleLineHeight": 22}},
     "y": {"field": "v", "type": "quantitative", "axis": null}, "y2": {"field": "e"}}},
   {"mark": {"type": "tick", "thickness": 2, "size": 28, "color": "black", "opacity": 1},
    "encoding": {"x": {"field": "g", "type": "nominal", "sort": null, "axis": null}, "y": {"field": "e", "type": "quantitative", "axis": null}}},
   {"mark": {"type": "text", "fontSize": 19, "baseline": "alphabetic", "dy": -3, "color": "black"},
    "encoding": {"x": {"field": "g", "type": "nominal", "sort": null, "axis": null}, "y": {"field": "e", "type": "quantitative", "axis": null}, "text": {"field": "s"}}}
  ]}
],
"resolve": {"scale": {"x": "independent", "y": "independent"}, "axis": {"x": "independent", "y": "independent"}}
}
